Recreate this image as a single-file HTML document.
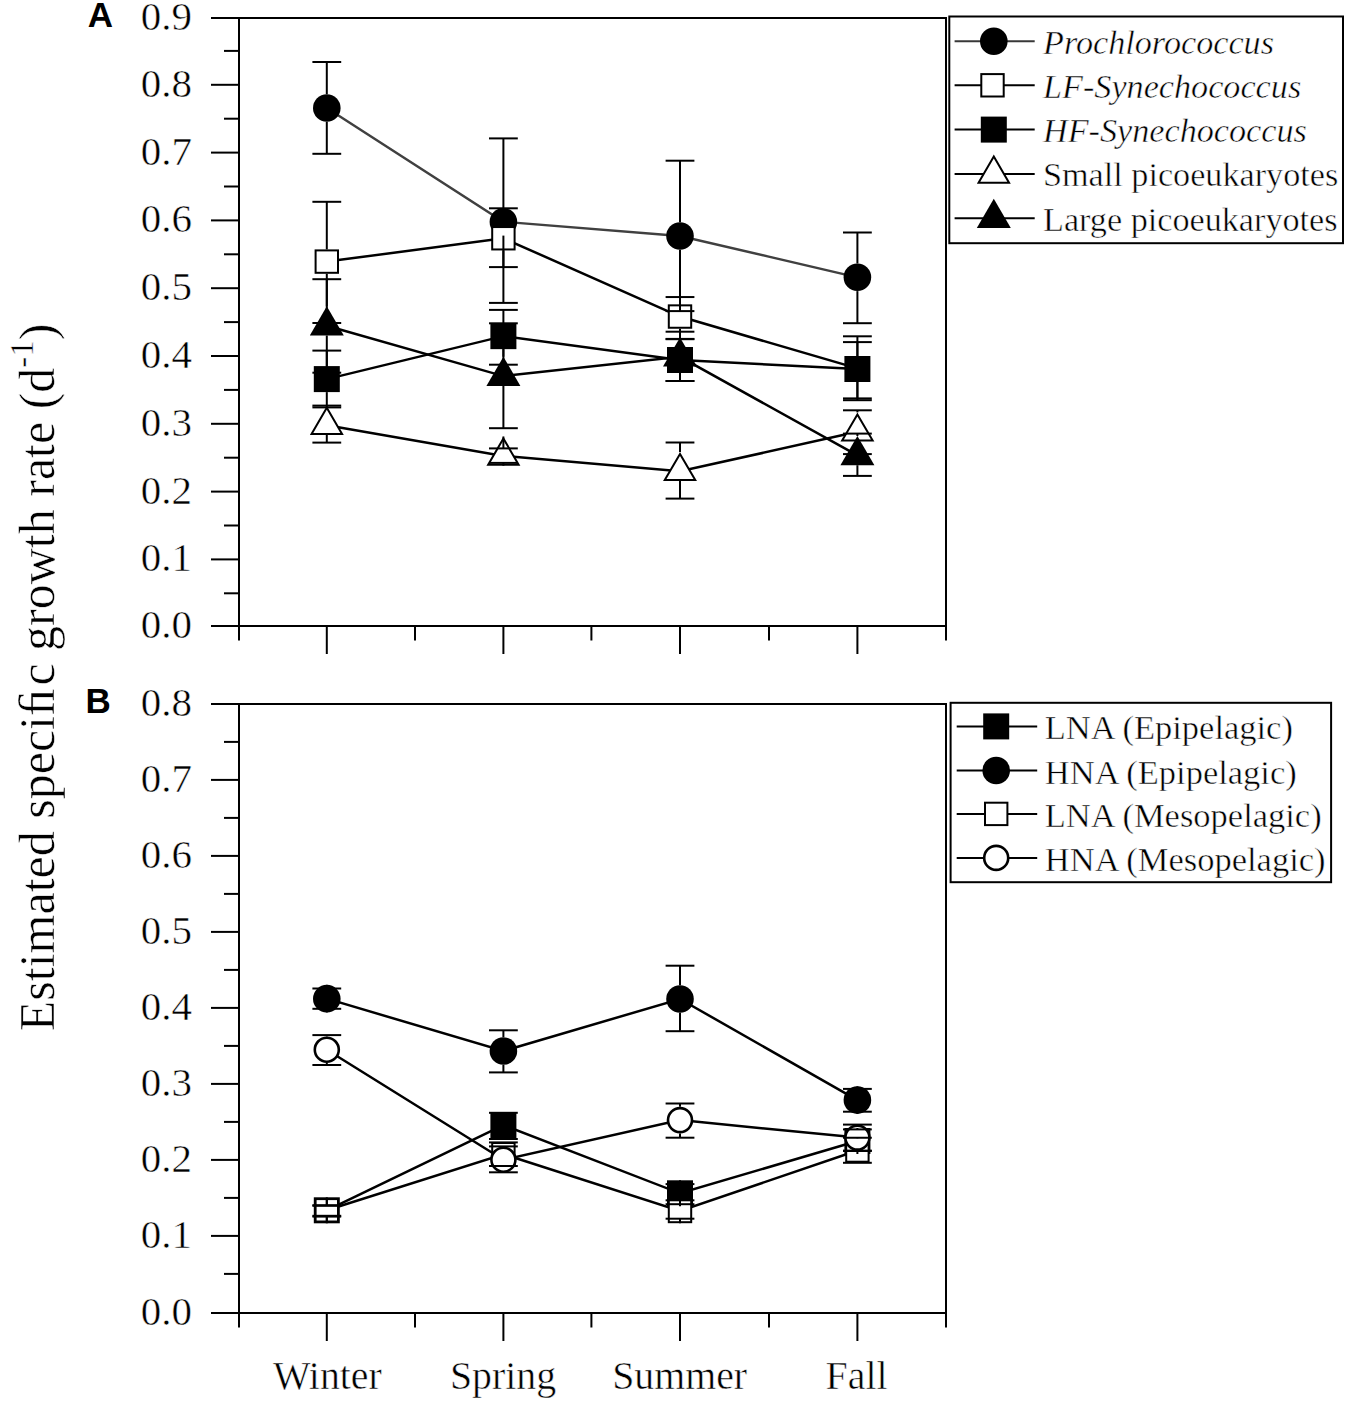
<!DOCTYPE html>
<html><head><meta charset="utf-8"><style>html,body{margin:0;padding:0;background:#fff;width:1350px;height:1405px;overflow:hidden}svg{display:block}</style></head>
<body>
<svg width="1350" height="1405" viewBox="0 0 1350 1405">
<style>text{font-family:"Liberation Serif",serif;fill:#000;stroke:#fff;stroke-width:0.5px}.t{font-size:41.0px}.l{font-size:34.2px}.x{font-size:39.8px}.p{font-family:"Liberation Sans",sans-serif;font-weight:bold;font-size:35px;stroke:none}</style>
<rect width="1350" height="1405" fill="#fff"/>
<text x="87.8" y="26.8" class="p">A</text>
<text x="85.6" y="713.4" class="p">B</text>
<g transform="translate(54.0,1031.2) rotate(-90)"><text x="0" y="0" style="font-size:50.0px">Estimated speci&#xFB01;<tspan dx="2.6">c growth rate (d</tspan><tspan dy="-20.6" style="font-size:33px">-1</tspan><tspan dy="20.6">)</tspan></text></g>
<rect x="239" y="18" width="707" height="608" fill="none" stroke="#000" stroke-width="2.0"/>
<line x1="211.00" y1="626.00" x2="239.00" y2="626.00" stroke="#000" stroke-width="2.0"/>
<line x1="224.00" y1="593.30" x2="239.00" y2="593.30" stroke="#000" stroke-width="2.0"/>
<text x="166.3" y="638.00" text-anchor="middle" class="t">0.0</text>
<line x1="211.00" y1="559.40" x2="239.00" y2="559.40" stroke="#000" stroke-width="2.0"/>
<line x1="224.00" y1="525.50" x2="239.00" y2="525.50" stroke="#000" stroke-width="2.0"/>
<text x="166.3" y="571.40" text-anchor="middle" class="t">0.1</text>
<line x1="211.00" y1="491.60" x2="239.00" y2="491.60" stroke="#000" stroke-width="2.0"/>
<line x1="224.00" y1="457.70" x2="239.00" y2="457.70" stroke="#000" stroke-width="2.0"/>
<text x="166.3" y="503.60" text-anchor="middle" class="t">0.2</text>
<line x1="211.00" y1="423.80" x2="239.00" y2="423.80" stroke="#000" stroke-width="2.0"/>
<line x1="224.00" y1="389.90" x2="239.00" y2="389.90" stroke="#000" stroke-width="2.0"/>
<text x="166.3" y="435.80" text-anchor="middle" class="t">0.3</text>
<line x1="211.00" y1="356.00" x2="239.00" y2="356.00" stroke="#000" stroke-width="2.0"/>
<line x1="224.00" y1="322.10" x2="239.00" y2="322.10" stroke="#000" stroke-width="2.0"/>
<text x="166.3" y="368.00" text-anchor="middle" class="t">0.4</text>
<line x1="211.00" y1="288.20" x2="239.00" y2="288.20" stroke="#000" stroke-width="2.0"/>
<line x1="224.00" y1="254.30" x2="239.00" y2="254.30" stroke="#000" stroke-width="2.0"/>
<text x="166.3" y="300.20" text-anchor="middle" class="t">0.5</text>
<line x1="211.00" y1="220.40" x2="239.00" y2="220.40" stroke="#000" stroke-width="2.0"/>
<line x1="224.00" y1="186.50" x2="239.00" y2="186.50" stroke="#000" stroke-width="2.0"/>
<text x="166.3" y="232.40" text-anchor="middle" class="t">0.6</text>
<line x1="211.00" y1="152.60" x2="239.00" y2="152.60" stroke="#000" stroke-width="2.0"/>
<line x1="224.00" y1="118.70" x2="239.00" y2="118.70" stroke="#000" stroke-width="2.0"/>
<text x="166.3" y="164.60" text-anchor="middle" class="t">0.7</text>
<line x1="211.00" y1="84.80" x2="239.00" y2="84.80" stroke="#000" stroke-width="2.0"/>
<line x1="224.00" y1="50.90" x2="239.00" y2="50.90" stroke="#000" stroke-width="2.0"/>
<text x="166.3" y="96.80" text-anchor="middle" class="t">0.8</text>
<line x1="211.00" y1="18.00" x2="239.00" y2="18.00" stroke="#000" stroke-width="2.0"/>
<text x="166.3" y="30.00" text-anchor="middle" class="t">0.9</text>
<line x1="326.80" y1="626.00" x2="326.80" y2="654.00" stroke="#000" stroke-width="2.0"/>
<line x1="503.40" y1="626.00" x2="503.40" y2="654.00" stroke="#000" stroke-width="2.0"/>
<line x1="680.00" y1="626.00" x2="680.00" y2="654.00" stroke="#000" stroke-width="2.0"/>
<line x1="857.40" y1="626.00" x2="857.40" y2="654.00" stroke="#000" stroke-width="2.0"/>
<line x1="239.00" y1="626.00" x2="239.00" y2="640.50" stroke="#000" stroke-width="2.0"/>
<line x1="415.00" y1="626.00" x2="415.00" y2="640.50" stroke="#000" stroke-width="2.0"/>
<line x1="591.40" y1="626.00" x2="591.40" y2="640.50" stroke="#000" stroke-width="2.0"/>
<line x1="769.00" y1="626.00" x2="769.00" y2="640.50" stroke="#000" stroke-width="2.0"/>
<line x1="946.00" y1="626.00" x2="946.00" y2="640.50" stroke="#000" stroke-width="2.0"/>
<rect x="239" y="704" width="707" height="609" fill="none" stroke="#000" stroke-width="2.0"/>
<line x1="211.00" y1="1313.00" x2="239.00" y2="1313.00" stroke="#000" stroke-width="2.0"/>
<line x1="224.00" y1="1273.90" x2="239.00" y2="1273.90" stroke="#000" stroke-width="2.0"/>
<text x="166.3" y="1325.00" text-anchor="middle" class="t">0.0</text>
<line x1="211.00" y1="1235.90" x2="239.00" y2="1235.90" stroke="#000" stroke-width="2.0"/>
<line x1="224.00" y1="1197.90" x2="239.00" y2="1197.90" stroke="#000" stroke-width="2.0"/>
<text x="166.3" y="1247.90" text-anchor="middle" class="t">0.1</text>
<line x1="211.00" y1="1159.90" x2="239.00" y2="1159.90" stroke="#000" stroke-width="2.0"/>
<line x1="224.00" y1="1121.90" x2="239.00" y2="1121.90" stroke="#000" stroke-width="2.0"/>
<text x="166.3" y="1171.90" text-anchor="middle" class="t">0.2</text>
<line x1="211.00" y1="1083.90" x2="239.00" y2="1083.90" stroke="#000" stroke-width="2.0"/>
<line x1="224.00" y1="1045.90" x2="239.00" y2="1045.90" stroke="#000" stroke-width="2.0"/>
<text x="166.3" y="1095.90" text-anchor="middle" class="t">0.3</text>
<line x1="211.00" y1="1007.90" x2="239.00" y2="1007.90" stroke="#000" stroke-width="2.0"/>
<line x1="224.00" y1="969.90" x2="239.00" y2="969.90" stroke="#000" stroke-width="2.0"/>
<text x="166.3" y="1019.90" text-anchor="middle" class="t">0.4</text>
<line x1="211.00" y1="931.90" x2="239.00" y2="931.90" stroke="#000" stroke-width="2.0"/>
<line x1="224.00" y1="893.90" x2="239.00" y2="893.90" stroke="#000" stroke-width="2.0"/>
<text x="166.3" y="943.90" text-anchor="middle" class="t">0.5</text>
<line x1="211.00" y1="855.90" x2="239.00" y2="855.90" stroke="#000" stroke-width="2.0"/>
<line x1="224.00" y1="817.90" x2="239.00" y2="817.90" stroke="#000" stroke-width="2.0"/>
<text x="166.3" y="867.90" text-anchor="middle" class="t">0.6</text>
<line x1="211.00" y1="779.90" x2="239.00" y2="779.90" stroke="#000" stroke-width="2.0"/>
<line x1="224.00" y1="741.90" x2="239.00" y2="741.90" stroke="#000" stroke-width="2.0"/>
<text x="166.3" y="791.90" text-anchor="middle" class="t">0.7</text>
<line x1="211.00" y1="704.00" x2="239.00" y2="704.00" stroke="#000" stroke-width="2.0"/>
<text x="166.3" y="716.00" text-anchor="middle" class="t">0.8</text>
<line x1="326.80" y1="1313.00" x2="326.80" y2="1341.00" stroke="#000" stroke-width="2.0"/>
<line x1="503.40" y1="1313.00" x2="503.40" y2="1341.00" stroke="#000" stroke-width="2.0"/>
<line x1="680.00" y1="1313.00" x2="680.00" y2="1341.00" stroke="#000" stroke-width="2.0"/>
<line x1="857.40" y1="1313.00" x2="857.40" y2="1341.00" stroke="#000" stroke-width="2.0"/>
<line x1="239.00" y1="1313.00" x2="239.00" y2="1327.50" stroke="#000" stroke-width="2.0"/>
<line x1="415.00" y1="1313.00" x2="415.00" y2="1327.50" stroke="#000" stroke-width="2.0"/>
<line x1="591.40" y1="1313.00" x2="591.40" y2="1327.50" stroke="#000" stroke-width="2.0"/>
<line x1="769.00" y1="1313.00" x2="769.00" y2="1327.50" stroke="#000" stroke-width="2.0"/>
<line x1="946.00" y1="1313.00" x2="946.00" y2="1327.50" stroke="#000" stroke-width="2.0"/>
<polyline points="326.80,108.00 503.40,221.80 680.00,236.00 857.40,277.30" fill="none" stroke="#404040" stroke-width="2.4"/>
<polyline points="326.80,261.60 503.40,238.25 680.00,316.55 857.40,368.40" fill="none" stroke="#000" stroke-width="2.5"/>
<polyline points="326.80,379.10 503.40,336.15 680.00,360.00 857.40,369.00" fill="none" stroke="#000" stroke-width="2.5"/>
<polyline points="326.80,425.20 503.40,455.90 680.00,471.30 857.40,431.80" fill="none" stroke="#000" stroke-width="2.5"/>
<polyline points="326.80,325.70 503.40,376.10 680.00,356.80 857.40,455.40" fill="none" stroke="#000" stroke-width="2.5"/>
<circle cx="326.80" cy="108.00" r="13.8" fill="#000"/>
<circle cx="503.40" cy="221.80" r="13.8" fill="#000"/>
<circle cx="680.00" cy="236.00" r="13.8" fill="#000"/>
<circle cx="857.40" cy="277.30" r="13.8" fill="#000"/>
<rect x="315.60" y="250.40" width="22.40" height="22.40" fill="#fff" stroke="#000" stroke-width="2"/>
<rect x="492.20" y="227.05" width="22.40" height="22.40" fill="#fff" stroke="#000" stroke-width="2"/>
<rect x="668.80" y="305.35" width="22.40" height="22.40" fill="#fff" stroke="#000" stroke-width="2"/>
<rect x="846.20" y="357.20" width="22.40" height="22.40" fill="#fff" stroke="#000" stroke-width="2"/>
<rect x="313.80" y="366.10" width="26.0" height="26.0" fill="#000"/>
<rect x="490.40" y="323.15" width="26.0" height="26.0" fill="#000"/>
<rect x="667.00" y="347.00" width="26.0" height="26.0" fill="#000"/>
<rect x="844.40" y="356.00" width="26.0" height="26.0" fill="#000"/>
<polygon points="326.80,407.80 311.55,433.99 342.05,433.99" fill="#fff" stroke="#000" stroke-width="2" stroke-linejoin="miter"/>
<polygon points="503.40,438.50 488.15,464.69 518.65,464.69" fill="#fff" stroke="#000" stroke-width="2" stroke-linejoin="miter"/>
<polygon points="680.00,453.90 664.75,480.09 695.25,480.09" fill="#fff" stroke="#000" stroke-width="2" stroke-linejoin="miter"/>
<polygon points="857.40,414.40 842.15,440.59 872.65,440.59" fill="#fff" stroke="#000" stroke-width="2" stroke-linejoin="miter"/>
<polygon points="326.80,306.30 309.80,335.50 343.80,335.50" fill="#000"/>
<polygon points="503.40,356.70 486.40,385.90 520.40,385.90" fill="#000"/>
<polygon points="680.00,337.40 663.00,366.60 697.00,366.60" fill="#000"/>
<polygon points="857.40,436.00 840.40,465.20 874.40,465.20" fill="#000"/>
<line x1="326.80" y1="94.20" x2="326.80" y2="62.00" stroke="#000" stroke-width="2"/>
<line x1="326.80" y1="121.80" x2="326.80" y2="153.80" stroke="#000" stroke-width="2"/>
<line x1="312.40" y1="62.00" x2="341.20" y2="62.00" stroke="#000" stroke-width="2"/>
<line x1="312.40" y1="153.80" x2="341.20" y2="153.80" stroke="#000" stroke-width="2"/>
<line x1="503.40" y1="208.00" x2="503.40" y2="138.40" stroke="#000" stroke-width="2"/>
<line x1="503.40" y1="235.60" x2="503.40" y2="302.90" stroke="#000" stroke-width="2"/>
<line x1="489.00" y1="138.40" x2="517.80" y2="138.40" stroke="#000" stroke-width="2"/>
<line x1="489.00" y1="302.90" x2="517.80" y2="302.90" stroke="#000" stroke-width="2"/>
<line x1="680.00" y1="222.20" x2="680.00" y2="160.70" stroke="#000" stroke-width="2"/>
<line x1="680.00" y1="249.80" x2="680.00" y2="311.10" stroke="#000" stroke-width="2"/>
<line x1="665.60" y1="160.70" x2="694.40" y2="160.70" stroke="#000" stroke-width="2"/>
<line x1="665.60" y1="311.10" x2="694.40" y2="311.10" stroke="#000" stroke-width="2"/>
<line x1="857.40" y1="263.50" x2="857.40" y2="232.50" stroke="#000" stroke-width="2"/>
<line x1="857.40" y1="291.10" x2="857.40" y2="323.20" stroke="#000" stroke-width="2"/>
<line x1="843.00" y1="232.50" x2="871.80" y2="232.50" stroke="#000" stroke-width="2"/>
<line x1="843.00" y1="323.20" x2="871.80" y2="323.20" stroke="#000" stroke-width="2"/>
<line x1="326.80" y1="249.40" x2="326.80" y2="201.80" stroke="#000" stroke-width="2"/>
<line x1="326.80" y1="273.80" x2="326.80" y2="323.00" stroke="#000" stroke-width="2"/>
<line x1="312.40" y1="201.80" x2="341.20" y2="201.80" stroke="#000" stroke-width="2"/>
<line x1="312.40" y1="323.00" x2="341.20" y2="323.00" stroke="#000" stroke-width="2"/>
<line x1="503.40" y1="226.05" x2="503.40" y2="208.30" stroke="#000" stroke-width="2"/>
<line x1="503.40" y1="250.45" x2="503.40" y2="267.10" stroke="#000" stroke-width="2"/>
<line x1="489.00" y1="208.30" x2="517.80" y2="208.30" stroke="#000" stroke-width="2"/>
<line x1="489.00" y1="267.10" x2="517.80" y2="267.10" stroke="#000" stroke-width="2"/>
<line x1="680.00" y1="304.35" x2="680.00" y2="297.05" stroke="#000" stroke-width="2"/>
<line x1="680.00" y1="328.75" x2="680.00" y2="338.90" stroke="#000" stroke-width="2"/>
<line x1="665.60" y1="297.05" x2="694.40" y2="297.05" stroke="#000" stroke-width="2"/>
<line x1="665.60" y1="338.90" x2="694.40" y2="338.90" stroke="#000" stroke-width="2"/>
<line x1="857.40" y1="356.20" x2="857.40" y2="336.30" stroke="#000" stroke-width="2"/>
<line x1="857.40" y1="380.60" x2="857.40" y2="400.20" stroke="#000" stroke-width="2"/>
<line x1="843.00" y1="336.30" x2="871.80" y2="336.30" stroke="#000" stroke-width="2"/>
<line x1="843.00" y1="400.20" x2="871.80" y2="400.20" stroke="#000" stroke-width="2"/>
<line x1="326.80" y1="366.10" x2="326.80" y2="350.60" stroke="#000" stroke-width="2"/>
<line x1="326.80" y1="392.10" x2="326.80" y2="405.60" stroke="#000" stroke-width="2"/>
<line x1="312.40" y1="350.60" x2="341.20" y2="350.60" stroke="#000" stroke-width="2"/>
<line x1="312.40" y1="405.60" x2="341.20" y2="405.60" stroke="#000" stroke-width="2"/>
<line x1="503.40" y1="323.15" x2="503.40" y2="309.90" stroke="#000" stroke-width="2"/>
<line x1="503.40" y1="349.15" x2="503.40" y2="364.70" stroke="#000" stroke-width="2"/>
<line x1="489.00" y1="309.90" x2="517.80" y2="309.90" stroke="#000" stroke-width="2"/>
<line x1="489.00" y1="364.70" x2="517.80" y2="364.70" stroke="#000" stroke-width="2"/>
<line x1="680.00" y1="347.00" x2="680.00" y2="339.20" stroke="#000" stroke-width="2"/>
<line x1="680.00" y1="373.00" x2="680.00" y2="381.00" stroke="#000" stroke-width="2"/>
<line x1="665.60" y1="339.20" x2="694.40" y2="339.20" stroke="#000" stroke-width="2"/>
<line x1="665.60" y1="381.00" x2="694.40" y2="381.00" stroke="#000" stroke-width="2"/>
<line x1="857.40" y1="356.00" x2="857.40" y2="342.10" stroke="#000" stroke-width="2"/>
<line x1="857.40" y1="382.00" x2="857.40" y2="398.40" stroke="#000" stroke-width="2"/>
<line x1="843.00" y1="342.10" x2="871.80" y2="342.10" stroke="#000" stroke-width="2"/>
<line x1="843.00" y1="398.40" x2="871.80" y2="398.40" stroke="#000" stroke-width="2"/>
<line x1="326.80" y1="405.80" x2="326.80" y2="407.40" stroke="#000" stroke-width="2"/>
<line x1="326.80" y1="435.00" x2="326.80" y2="442.60" stroke="#000" stroke-width="2"/>
<line x1="312.40" y1="407.40" x2="341.20" y2="407.40" stroke="#000" stroke-width="2"/>
<line x1="312.40" y1="442.60" x2="341.20" y2="442.60" stroke="#000" stroke-width="2"/>
<line x1="503.40" y1="436.50" x2="503.40" y2="448.40" stroke="#000" stroke-width="2"/>
<line x1="503.40" y1="465.70" x2="503.40" y2="462.90" stroke="#000" stroke-width="2"/>
<line x1="489.00" y1="448.40" x2="517.80" y2="448.40" stroke="#000" stroke-width="2"/>
<line x1="489.00" y1="462.90" x2="517.80" y2="462.90" stroke="#000" stroke-width="2"/>
<line x1="680.00" y1="451.90" x2="680.00" y2="442.50" stroke="#000" stroke-width="2"/>
<line x1="680.00" y1="481.10" x2="680.00" y2="498.60" stroke="#000" stroke-width="2"/>
<line x1="665.60" y1="442.50" x2="694.40" y2="442.50" stroke="#000" stroke-width="2"/>
<line x1="665.60" y1="498.60" x2="694.40" y2="498.60" stroke="#000" stroke-width="2"/>
<line x1="857.40" y1="412.40" x2="857.40" y2="410.30" stroke="#000" stroke-width="2"/>
<line x1="857.40" y1="441.60" x2="857.40" y2="454.10" stroke="#000" stroke-width="2"/>
<line x1="843.00" y1="410.30" x2="871.80" y2="410.30" stroke="#000" stroke-width="2"/>
<line x1="843.00" y1="454.10" x2="871.80" y2="454.10" stroke="#000" stroke-width="2"/>
<line x1="326.80" y1="306.30" x2="326.80" y2="279.20" stroke="#000" stroke-width="2"/>
<line x1="326.80" y1="335.50" x2="326.80" y2="372.70" stroke="#000" stroke-width="2"/>
<line x1="312.40" y1="279.20" x2="341.20" y2="279.20" stroke="#000" stroke-width="2"/>
<line x1="312.40" y1="372.70" x2="341.20" y2="372.70" stroke="#000" stroke-width="2"/>
<line x1="503.40" y1="356.70" x2="503.40" y2="323.30" stroke="#000" stroke-width="2"/>
<line x1="503.40" y1="385.90" x2="503.40" y2="428.20" stroke="#000" stroke-width="2"/>
<line x1="489.00" y1="323.30" x2="517.80" y2="323.30" stroke="#000" stroke-width="2"/>
<line x1="489.00" y1="428.20" x2="517.80" y2="428.20" stroke="#000" stroke-width="2"/>
<line x1="680.00" y1="337.40" x2="680.00" y2="331.70" stroke="#000" stroke-width="2"/>
<line x1="680.00" y1="366.60" x2="680.00" y2="381.00" stroke="#000" stroke-width="2"/>
<line x1="665.60" y1="331.70" x2="694.40" y2="331.70" stroke="#000" stroke-width="2"/>
<line x1="665.60" y1="381.00" x2="694.40" y2="381.00" stroke="#000" stroke-width="2"/>
<line x1="857.40" y1="436.00" x2="857.40" y2="433.60" stroke="#000" stroke-width="2"/>
<line x1="857.40" y1="465.20" x2="857.40" y2="475.90" stroke="#000" stroke-width="2"/>
<line x1="843.00" y1="433.60" x2="871.80" y2="433.60" stroke="#000" stroke-width="2"/>
<line x1="843.00" y1="475.90" x2="871.80" y2="475.90" stroke="#000" stroke-width="2"/>
<polyline points="326.80,1210.30 503.40,1125.10 680.00,1193.30 857.40,1141.00" fill="none" stroke="#000" stroke-width="2.5"/>
<polyline points="326.80,998.65 503.40,1051.00 680.00,999.00 857.40,1100.10" fill="none" stroke="#000" stroke-width="2.5"/>
<polyline points="326.80,1210.30 503.40,1154.20 680.00,1211.00 857.40,1150.50" fill="none" stroke="#000" stroke-width="2.5"/>
<polyline points="326.80,1049.70 503.40,1159.70 680.00,1120.10 857.40,1137.60" fill="none" stroke="#000" stroke-width="2.5"/>
<rect x="313.80" y="1197.30" width="26.0" height="26.0" fill="#000"/>
<rect x="490.40" y="1112.10" width="26.0" height="26.0" fill="#000"/>
<rect x="667.00" y="1180.30" width="26.0" height="26.0" fill="#000"/>
<rect x="844.40" y="1128.00" width="26.0" height="26.0" fill="#000"/>
<circle cx="326.80" cy="998.65" r="13.8" fill="#000"/>
<circle cx="503.40" cy="1051.00" r="13.8" fill="#000"/>
<circle cx="680.00" cy="999.00" r="13.8" fill="#000"/>
<circle cx="857.40" cy="1100.10" r="13.8" fill="#000"/>
<rect x="315.60" y="1199.10" width="22.40" height="22.40" fill="#fff" stroke="#000" stroke-width="2"/>
<rect x="492.20" y="1143.00" width="22.40" height="22.40" fill="#fff" stroke="#000" stroke-width="2"/>
<rect x="668.80" y="1199.80" width="22.40" height="22.40" fill="#fff" stroke="#000" stroke-width="2"/>
<rect x="846.20" y="1139.30" width="22.40" height="22.40" fill="#fff" stroke="#000" stroke-width="2"/>
<circle cx="326.80" cy="1049.70" r="12.0" fill="#fff" stroke="#000" stroke-width="2.6"/>
<circle cx="503.40" cy="1159.70" r="12.0" fill="#fff" stroke="#000" stroke-width="2.6"/>
<circle cx="680.00" cy="1120.10" r="12.0" fill="#fff" stroke="#000" stroke-width="2.6"/>
<circle cx="857.40" cy="1137.60" r="12.0" fill="#fff" stroke="#000" stroke-width="2.6"/>
<line x1="326.80" y1="1197.30" x2="326.80" y2="1205.20" stroke="#000" stroke-width="2"/>
<line x1="326.80" y1="1223.30" x2="326.80" y2="1216.60" stroke="#000" stroke-width="2"/>
<line x1="312.40" y1="1205.20" x2="341.20" y2="1205.20" stroke="#000" stroke-width="2"/>
<line x1="312.40" y1="1216.60" x2="341.20" y2="1216.60" stroke="#000" stroke-width="2"/>
<line x1="503.40" y1="1112.10" x2="503.40" y2="1112.80" stroke="#000" stroke-width="2"/>
<line x1="503.40" y1="1138.10" x2="503.40" y2="1139.00" stroke="#000" stroke-width="2"/>
<line x1="489.00" y1="1112.80" x2="517.80" y2="1112.80" stroke="#000" stroke-width="2"/>
<line x1="489.00" y1="1139.00" x2="517.80" y2="1139.00" stroke="#000" stroke-width="2"/>
<line x1="680.00" y1="1180.30" x2="680.00" y2="1184.10" stroke="#000" stroke-width="2"/>
<line x1="680.00" y1="1206.30" x2="680.00" y2="1200.30" stroke="#000" stroke-width="2"/>
<line x1="665.60" y1="1184.10" x2="694.40" y2="1184.10" stroke="#000" stroke-width="2"/>
<line x1="665.60" y1="1200.30" x2="694.40" y2="1200.30" stroke="#000" stroke-width="2"/>
<line x1="857.40" y1="1128.00" x2="857.40" y2="1129.40" stroke="#000" stroke-width="2"/>
<line x1="857.40" y1="1154.00" x2="857.40" y2="1151.00" stroke="#000" stroke-width="2"/>
<line x1="843.00" y1="1129.40" x2="871.80" y2="1129.40" stroke="#000" stroke-width="2"/>
<line x1="843.00" y1="1151.00" x2="871.80" y2="1151.00" stroke="#000" stroke-width="2"/>
<line x1="326.80" y1="984.85" x2="326.80" y2="988.50" stroke="#000" stroke-width="2"/>
<line x1="326.80" y1="1012.45" x2="326.80" y2="1008.80" stroke="#000" stroke-width="2"/>
<line x1="312.40" y1="988.50" x2="341.20" y2="988.50" stroke="#000" stroke-width="2"/>
<line x1="312.40" y1="1008.80" x2="341.20" y2="1008.80" stroke="#000" stroke-width="2"/>
<line x1="503.40" y1="1037.20" x2="503.40" y2="1030.30" stroke="#000" stroke-width="2"/>
<line x1="503.40" y1="1064.80" x2="503.40" y2="1072.40" stroke="#000" stroke-width="2"/>
<line x1="489.00" y1="1030.30" x2="517.80" y2="1030.30" stroke="#000" stroke-width="2"/>
<line x1="489.00" y1="1072.40" x2="517.80" y2="1072.40" stroke="#000" stroke-width="2"/>
<line x1="680.00" y1="985.20" x2="680.00" y2="965.70" stroke="#000" stroke-width="2"/>
<line x1="680.00" y1="1012.80" x2="680.00" y2="1031.20" stroke="#000" stroke-width="2"/>
<line x1="665.60" y1="965.70" x2="694.40" y2="965.70" stroke="#000" stroke-width="2"/>
<line x1="665.60" y1="1031.20" x2="694.40" y2="1031.20" stroke="#000" stroke-width="2"/>
<line x1="857.40" y1="1086.30" x2="857.40" y2="1088.90" stroke="#000" stroke-width="2"/>
<line x1="857.40" y1="1113.90" x2="857.40" y2="1111.70" stroke="#000" stroke-width="2"/>
<line x1="843.00" y1="1088.90" x2="871.80" y2="1088.90" stroke="#000" stroke-width="2"/>
<line x1="843.00" y1="1111.70" x2="871.80" y2="1111.70" stroke="#000" stroke-width="2"/>
<line x1="326.80" y1="1198.10" x2="326.80" y2="1205.80" stroke="#000" stroke-width="2"/>
<line x1="326.80" y1="1222.50" x2="326.80" y2="1215.80" stroke="#000" stroke-width="2"/>
<line x1="312.40" y1="1205.80" x2="341.20" y2="1205.80" stroke="#000" stroke-width="2"/>
<line x1="312.40" y1="1215.80" x2="341.20" y2="1215.80" stroke="#000" stroke-width="2"/>
<line x1="503.40" y1="1142.00" x2="503.40" y2="1142.40" stroke="#000" stroke-width="2"/>
<line x1="503.40" y1="1166.40" x2="503.40" y2="1166.00" stroke="#000" stroke-width="2"/>
<line x1="489.00" y1="1142.40" x2="517.80" y2="1142.40" stroke="#000" stroke-width="2"/>
<line x1="489.00" y1="1166.00" x2="517.80" y2="1166.00" stroke="#000" stroke-width="2"/>
<line x1="680.00" y1="1198.80" x2="680.00" y2="1204.20" stroke="#000" stroke-width="2"/>
<line x1="680.00" y1="1223.20" x2="680.00" y2="1218.70" stroke="#000" stroke-width="2"/>
<line x1="665.60" y1="1204.20" x2="694.40" y2="1204.20" stroke="#000" stroke-width="2"/>
<line x1="665.60" y1="1218.70" x2="694.40" y2="1218.70" stroke="#000" stroke-width="2"/>
<line x1="857.40" y1="1138.30" x2="857.40" y2="1137.75" stroke="#000" stroke-width="2"/>
<line x1="857.40" y1="1162.70" x2="857.40" y2="1162.80" stroke="#000" stroke-width="2"/>
<line x1="843.00" y1="1137.75" x2="871.80" y2="1137.75" stroke="#000" stroke-width="2"/>
<line x1="843.00" y1="1162.80" x2="871.80" y2="1162.80" stroke="#000" stroke-width="2"/>
<line x1="326.80" y1="1036.40" x2="326.80" y2="1035.10" stroke="#000" stroke-width="2"/>
<line x1="326.80" y1="1063.00" x2="326.80" y2="1065.00" stroke="#000" stroke-width="2"/>
<line x1="312.40" y1="1035.10" x2="341.20" y2="1035.10" stroke="#000" stroke-width="2"/>
<line x1="312.40" y1="1065.00" x2="341.20" y2="1065.00" stroke="#000" stroke-width="2"/>
<line x1="503.40" y1="1146.40" x2="503.40" y2="1146.40" stroke="#000" stroke-width="2"/>
<line x1="503.40" y1="1173.00" x2="503.40" y2="1172.30" stroke="#000" stroke-width="2"/>
<line x1="489.00" y1="1146.40" x2="517.80" y2="1146.40" stroke="#000" stroke-width="2"/>
<line x1="489.00" y1="1172.30" x2="517.80" y2="1172.30" stroke="#000" stroke-width="2"/>
<line x1="680.00" y1="1106.80" x2="680.00" y2="1103.50" stroke="#000" stroke-width="2"/>
<line x1="680.00" y1="1133.40" x2="680.00" y2="1137.70" stroke="#000" stroke-width="2"/>
<line x1="665.60" y1="1103.50" x2="694.40" y2="1103.50" stroke="#000" stroke-width="2"/>
<line x1="665.60" y1="1137.70" x2="694.40" y2="1137.70" stroke="#000" stroke-width="2"/>
<line x1="857.40" y1="1124.30" x2="857.40" y2="1124.60" stroke="#000" stroke-width="2"/>
<line x1="857.40" y1="1150.90" x2="857.40" y2="1150.60" stroke="#000" stroke-width="2"/>
<line x1="843.00" y1="1124.60" x2="871.80" y2="1124.60" stroke="#000" stroke-width="2"/>
<line x1="843.00" y1="1150.60" x2="871.80" y2="1150.60" stroke="#000" stroke-width="2"/>
<text x="327.35" y="1389" text-anchor="middle" class="x">Winter</text>
<text x="503.00" y="1389" text-anchor="middle" class="x">Spring</text>
<text x="679.65" y="1389" text-anchor="middle" class="x">Summer</text>
<text x="856.55" y="1389" text-anchor="middle" class="x">Fall</text>
<rect x="949.3" y="16.5" width="393.70000000000005" height="226.7" fill="#fff" stroke="#000" stroke-width="2"/>
<line x1="954.60" y1="41.30" x2="1034.70" y2="41.30" stroke="#383838" stroke-width="2"/>
<circle cx="993.80" cy="41.30" r="13.8" fill="#000"/>
<text x="1043" y="53.60" style="font-size:34.2px" font-style="italic">Prochlorococcus</text>
<line x1="954.60" y1="85.30" x2="1034.70" y2="85.30" stroke="#000" stroke-width="2"/>
<rect x="981.30" y="74.10" width="22.40" height="22.40" fill="#fff" stroke="#000" stroke-width="2"/>
<text x="1043" y="97.60" style="font-size:34.2px" font-style="italic">LF-Synechococcus</text>
<line x1="954.60" y1="129.60" x2="1034.70" y2="129.60" stroke="#000" stroke-width="2"/>
<rect x="980.80" y="116.60" width="26.0" height="26.0" fill="#000"/>
<text x="1043" y="141.90" style="font-size:34.2px" font-style="italic">HF-Synechococcus</text>
<line x1="954.60" y1="173.90" x2="1034.70" y2="173.90" stroke="#000" stroke-width="2"/>
<polygon points="993.80,156.50 978.55,182.69 1009.05,182.69" fill="#fff" stroke="#000" stroke-width="2" stroke-linejoin="miter"/>
<text x="1043" y="186.20" style="font-size:34.2px">Small picoeukaryotes</text>
<line x1="954.60" y1="218.20" x2="1034.70" y2="218.20" stroke="#000" stroke-width="2"/>
<polygon points="993.80,198.80 976.80,228.00 1010.80,228.00" fill="#000"/>
<text x="1043" y="230.50" style="font-size:34.2px">Large picoeukaryotes</text>
<rect x="950.6" y="702.8" width="380.4999999999999" height="179.4000000000001" fill="#fff" stroke="#000" stroke-width="2"/>
<line x1="956.70" y1="726.40" x2="1037.20" y2="726.40" stroke="#000" stroke-width="2"/>
<rect x="983.20" y="713.40" width="26.0" height="26.0" fill="#000"/>
<text x="1044.8" y="739.40" style="font-size:34.5px">LNA (Epipelagic)</text>
<line x1="956.70" y1="770.50" x2="1037.20" y2="770.50" stroke="#000" stroke-width="2"/>
<circle cx="996.20" cy="770.50" r="13.8" fill="#000"/>
<text x="1044.8" y="783.50" style="font-size:34.5px">HNA (Epipelagic)</text>
<line x1="956.70" y1="813.90" x2="1037.20" y2="813.90" stroke="#000" stroke-width="2"/>
<rect x="985.00" y="802.70" width="22.40" height="22.40" fill="#fff" stroke="#000" stroke-width="2"/>
<text x="1044.8" y="826.90" style="font-size:34.5px">LNA (Mesopelagic)</text>
<line x1="956.70" y1="857.90" x2="1037.20" y2="857.90" stroke="#000" stroke-width="2"/>
<circle cx="996.20" cy="857.90" r="12.0" fill="#fff" stroke="#000" stroke-width="2.6"/>
<text x="1044.8" y="870.90" style="font-size:34.5px">HNA (Mesopelagic)</text>
</svg>
</body></html>
